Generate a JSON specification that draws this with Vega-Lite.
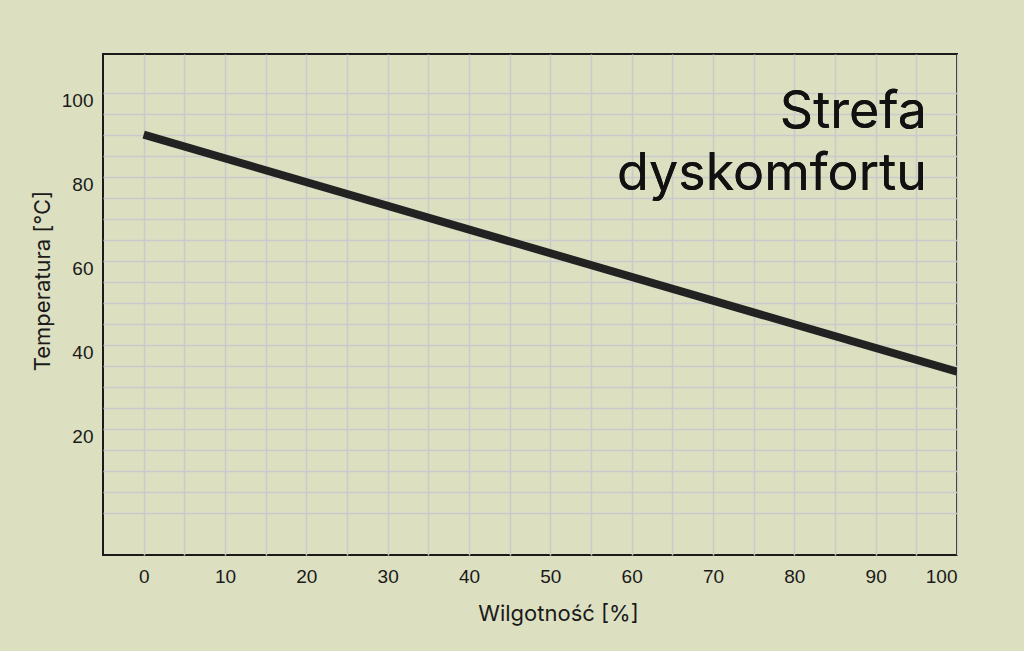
{
  "$schema": "https://vega.github.io/schema/vega-lite/v6.json",
  "width": 854,
  "height": 501,
  "autosize": {"type": "none"},
  "padding": {"left": 103, "top": 54, "right": 67, "bottom": 96},
  "background": "#dcdfc0",
  "config": {
    "view": {"stroke": "#1a1a1a", "strokeWidth": 2, "fill": "#dcdfc0"},
    "axis": {
      "grid": true,
      "gridColor": "#c9cacb",
      "gridWidth": 1.5,
      "domain": false,
      "ticks": false,
      "labelFont": "Liberation Sans",
      "labelFontSize": 19,
      "labelColor": "#1a1a1a",
      "labelOverlap": false,
      "titleFont": "Inter",
      "titleFontSize": 22,
      "titleFontWeight": "normal",
      "titleColor": "#1a1a1a"
    }
  },
  "data": {"values": [
    {"humidity": 0, "temp": 90},
    {"humidity": 100, "temp": 33.6}
  ]},
  "encoding": {
    "x": {
      "type": "quantitative",
      "scale": {"domain": [-5, 100], "nice": false, "zero": false},
      "axis": {
        "title": "Wilgotność [%]",
        "values": [0,5,10,15,20,25,30,35,40,45,50,55,60,65,70,75,80,85,90,95,100],
        "labelExpr": "datum.value % 10 == 0 ? datum.label : ''",
        "labelPadding": 12,
        "titleX": 455,
        "titleY": 65,
        "titleBaseline": "alphabetic"
      }
    },
    "y": {
      "type": "quantitative",
      "scale": {"domain": [-10, 109.2], "nice": false, "zero": false},
      "axis": {
        "title": "Temperatura [°C]",
        "values": [0,5,10,15,20,25,30,35,40,45,50,55,60,65,70,75,80,85,90,95,100],
        "labelExpr": "datum.value % 20 == 0 && datum.value > 0 ? datum.label : ''",
        "labelPadding": 10,
        "labelOffset": 8,
        "titleAngle": 270,
        "titleX": -54,
        "titleY": 226.5,
        "titleBaseline": "alphabetic"
      }
    }
  },
  "layer": [
    {
      "mark": {"type": "line", "color": "#222222", "strokeWidth": 8, "strokeCap": "butt", "clip": true},
      "encoding": {
        "x": {"field": "humidity", "type": "quantitative"},
        "y": {"field": "temp", "type": "quantitative"}
      }
    },
    {
      "mark": {"type": "text", "font": "Inter", "fontSize": 52, "align": "right", "baseline": "alphabetic", "color": "#111111"},
      "encoding": {
        "x": {"datum": 96.3, "type": "quantitative"},
        "y": {"datum": 91.6, "type": "quantitative"},
        "text": {"value": "Strefa"}
      }
    },
    {
      "mark": {"type": "text", "font": "Inter", "fontSize": 52, "align": "right", "baseline": "alphabetic", "color": "#111111"},
      "encoding": {
        "x": {"datum": 96.3, "type": "quantitative"},
        "y": {"datum": 76.8, "type": "quantitative"},
        "text": {"value": "dyskomfortu"}
      }
    }
  ]
}
